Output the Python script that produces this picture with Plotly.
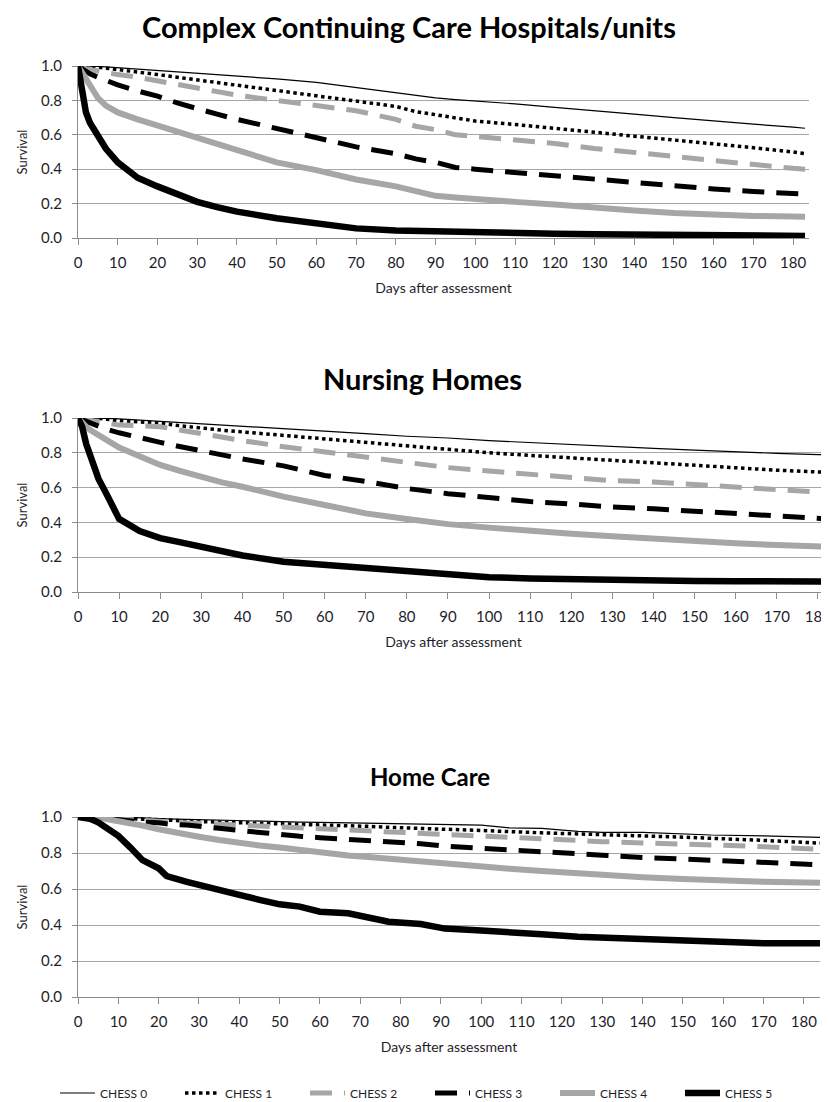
import plotly.graph_objects as go

SERIES = ["CHESS 0", "CHESS 1", "CHESS 2", "CHESS 3", "CHESS 4", "CHESS 5"]
PANEL_TITLES = ["Complex Continuing Care Hospitals/units", "Nursing Homes", "Home Care"]
X_TITLE = "Days after assessment"
Y_TITLE = "Survival"

# Panel 1: Complex Continuing Care Hospitals/units
CCC_DAYS = [0, 1, 2, 3, 5, 7, 10, 15, 20, 25, 30, 35, 40, 50, 60, 70, 80, 85, 90, 95,
            100, 110, 120, 130, 140, 150, 160, 170, 180, 183]
CCC_C0 = [1, 1, 1, 0.999, 0.997, 0.995, 0.99, 0.983, 0.977, 0.968, 0.96, 0.952, 0.943, 0.925, 0.905,
          0.875, 0.845, 0.83, 0.815, 0.805, 0.797, 0.78, 0.76, 0.742, 0.72, 0.70, 0.68, 0.662, 0.645, 0.638]
CCC_C1 = [1, 1, 0.998, 0.996, 0.993, 0.988, 0.98, 0.965, 0.95, 0.935, 0.92, 0.905, 0.89, 0.86, 0.83,
          0.80, 0.765, 0.735, 0.715, 0.695, 0.68, 0.66, 0.64, 0.615, 0.592, 0.57, 0.55, 0.525, 0.50, 0.49]
CCC_C2 = [1, 0.99, 0.985, 0.98, 0.97, 0.962, 0.95, 0.935, 0.915, 0.89, 0.87, 0.85, 0.83, 0.80, 0.77,
          0.74, 0.69, 0.65, 0.63, 0.60, 0.59, 0.57, 0.55, 0.52, 0.50, 0.475, 0.45, 0.425, 0.405, 0.40]
CCC_C3 = [1, 0.985, 0.97, 0.955, 0.935, 0.915, 0.89, 0.855, 0.825, 0.785, 0.75, 0.72, 0.69, 0.635, 0.58,
          0.53, 0.49, 0.46, 0.44, 0.41, 0.40, 0.38, 0.36, 0.34, 0.32, 0.30, 0.285, 0.27, 0.258, 0.255]
CCC_C4 = [1, 0.96, 0.92, 0.88, 0.815, 0.77, 0.73, 0.69, 0.655, 0.615, 0.58, 0.545, 0.51, 0.44, 0.395,
          0.34, 0.30, 0.27, 0.245, 0.235, 0.225, 0.21, 0.195, 0.175, 0.16, 0.145, 0.133, 0.128, 0.125, 0.124]
CCC_C5 = [1, 0.85, 0.73, 0.67, 0.59, 0.52, 0.44, 0.35, 0.30, 0.25, 0.21, 0.18, 0.153, 0.115, 0.085,
          0.056, 0.043, 0.04, 0.035, 0.032, 0.03, 0.028, 0.025, 0.022, 0.02, 0.018, 0.016, 0.015, 0.013, 0.012]

# Panel 2: Nursing Homes
NH_DAYS = [0, 1, 2, 3, 5, 7, 10, 15, 20, 25, 30, 35, 40, 50, 60, 70, 80, 90, 100, 110,
           120, 130, 140, 150, 160, 170, 180, 183]
NH_C0 = [1, 1, 1, 1, 0.999, 0.998, 0.995, 0.988, 0.98, 0.975, 0.97, 0.962, 0.955, 0.94, 0.925, 0.91,
         0.895, 0.885, 0.87, 0.858, 0.845, 0.835, 0.825, 0.815, 0.805, 0.797, 0.79, 0.787]
NH_C1 = [1, 1, 1, 0.999, 0.997, 0.993, 0.985, 0.978, 0.97, 0.955, 0.94, 0.93, 0.92, 0.9, 0.88, 0.86,
         0.835, 0.815, 0.80, 0.785, 0.77, 0.755, 0.74, 0.725, 0.71, 0.70, 0.69, 0.687]
NH_C2 = [1, 0.995, 0.99, 0.985, 0.978, 0.97, 0.96, 0.955, 0.95, 0.93, 0.91, 0.885, 0.87, 0.835, 0.805,
         0.775, 0.745, 0.715, 0.695, 0.675, 0.66, 0.64, 0.632, 0.618, 0.60, 0.586, 0.573, 0.57]
NH_C3 = [1, 0.99, 0.98, 0.97, 0.95, 0.935, 0.915, 0.885, 0.86, 0.835, 0.81, 0.785, 0.765, 0.725, 0.67,
         0.635, 0.595, 0.565, 0.54, 0.52, 0.506, 0.488, 0.478, 0.464, 0.447, 0.437, 0.424, 0.42]
NH_C4 = [1, 0.97, 0.95, 0.93, 0.90, 0.87, 0.83, 0.78, 0.73, 0.695, 0.66, 0.63, 0.605, 0.548, 0.50,
         0.452, 0.42, 0.39, 0.37, 0.35, 0.335, 0.32, 0.305, 0.29, 0.28, 0.27, 0.262, 0.26]
NH_C5 = [1, 0.95, 0.85, 0.78, 0.65, 0.56, 0.42, 0.35, 0.31, 0.285, 0.26, 0.235, 0.21, 0.174, 0.155,
         0.136, 0.12, 0.10, 0.085, 0.078, 0.072, 0.068, 0.065, 0.063, 0.062, 0.061, 0.06, 0.06]

# Panel 3: Home Care
HC_DAYS = [0, 3, 5, 8, 10, 13, 16, 20, 22, 27, 30, 35, 40, 45, 50, 55, 60, 67, 72, 77, 85, 91,
           100, 107, 115, 124, 130, 140, 150, 157, 170, 184]
HC_C0 = [1, 1, 1, 1, 1, 0.998, 0.995, 0.99, 0.99, 0.987, 0.985, 0.982, 0.98, 0.978, 0.975, 0.972,
         0.97, 0.967, 0.965, 0.962, 0.958, 0.955, 0.955, 0.94, 0.937, 0.92, 0.915, 0.915, 0.905, 0.9,
         0.895, 0.887]
HC_C1 = [1, 1, 1, 0.998, 0.995, 0.99, 0.988, 0.985, 0.982, 0.978, 0.975, 0.972, 0.97, 0.968, 0.965,
         0.962, 0.96, 0.952, 0.948, 0.943, 0.935, 0.932, 0.925, 0.918, 0.912, 0.906, 0.903, 0.895,
         0.888, 0.88, 0.87, 0.855]
HC_C2 = [1, 1, 0.998, 0.994, 0.99, 0.985, 0.98, 0.975, 0.972, 0.967, 0.965, 0.96, 0.955, 0.95, 0.945,
         0.94, 0.935, 0.93, 0.925, 0.92, 0.912, 0.905, 0.9, 0.893, 0.885, 0.87, 0.863, 0.858, 0.852,
         0.845, 0.835, 0.82]
HC_C3 = [1, 1, 0.995, 0.99, 0.985, 0.977, 0.972, 0.968, 0.962, 0.955, 0.95, 0.937, 0.925, 0.913,
         0.902, 0.893, 0.885, 0.877, 0.868, 0.862, 0.852, 0.838, 0.825, 0.815, 0.803, 0.795, 0.788,
         0.775, 0.765, 0.757, 0.744, 0.735]
HC_C4 = [1, 1, 0.998, 0.985, 0.978, 0.965, 0.952, 0.932, 0.922, 0.9, 0.89, 0.872, 0.854, 0.842, 0.83,
         0.815, 0.80, 0.786, 0.778, 0.768, 0.752, 0.737, 0.722, 0.713, 0.70, 0.685, 0.678, 0.665,
         0.655, 0.648, 0.64, 0.635]
HC_C5 = [1, 0.99, 0.97, 0.92, 0.895, 0.83, 0.76, 0.715, 0.672, 0.64, 0.625, 0.595, 0.567, 0.54,
         0.515, 0.502, 0.474, 0.465, 0.446, 0.418, 0.405, 0.38, 0.37, 0.357, 0.348, 0.335, 0.33, 0.32,
         0.31, 0.30, 0.298, 0.298]

X_TICKS = list(range(0, 181, 10))
Y_TICKS = [0.0, 0.2, 0.4, 0.6, 0.8, 1.0]

PANELS = [
    (CCC_DAYS, [CCC_C0, CCC_C1, CCC_C2, CCC_C3, CCC_C4, CCC_C5]),
    (NH_DAYS, [NH_C0, NH_C1, NH_C2, NH_C3, NH_C4, NH_C5]),
    (HC_DAYS, [HC_C0, HC_C1, HC_C2, HC_C3, HC_C4, HC_C5]),
]

# the page body has an 8px margin; figure sized to fit the 829x1102 window
OFF = 8
W, H = 829 - OFF, 1102 - OFF
GRAY = "#A6A6A6"
AXIS = "#8C8C8C"
TXT = "#1E1E2A"
FONT = "Lato"

STYLES = [
    dict(color="black", width=1.2, dash="solid"),
    dict(color="black", width=3.5, dash="dot"),
    dict(color=GRAY, width=5, dash="22px,12px"),
    dict(color="black", width=5, dash="22px,12px"),
    dict(color=GRAY, width=6, dash="solid"),
    dict(color="black", width=6.5, dash="solid"),
]

# page-pixel geometry: (left, right, top(1.0), bottom(0.0), xmax)
GEOM = [
    (78, 809, 66, 238, 184),
    (78, 829, 418, 592, 182.7),
    (78, 820, 817, 997, 184),
]
TITLE_Y = [26, 378, 777]
TITLE_X = [409, 422, 430]
TITLE_SIZE = [29, 29, 24]


def px(v):
    return (v - OFF) / W


def py(v):
    return 1 - (v - OFF) / H


fig = go.Figure()
layout = dict(width=W, height=H, margin=dict(l=0, r=0, t=0, b=0, autoexpand=False), autosize=False,
              paper_bgcolor="white", plot_bgcolor="white",
              font=dict(family=FONT, color=TXT, size=13))

annotations = []
for i, (days, series) in enumerate(PANELS):
    n = i + 1
    xa = "x" if n == 1 else f"x{n}"
    ya = "y" if n == 1 else f"y{n}"
    for k, (name, vals) in enumerate(zip(SERIES, series)):
        st = STYLES[k]
        fig.add_trace(go.Scatter(
            x=days, y=vals, mode="lines", name=name, xaxis=xa, yaxis=ya,
            line=dict(color=st["color"], width=st["width"], dash=st["dash"]),
            showlegend=(i == 0), legendrank=k,
        ))
    l, r, t, b, xmax = GEOM[i]
    layout[f"xaxis{'' if n == 1 else n}"] = dict(
        domain=[px(l), min(px(r), 1.0)], anchor=ya, range=[0, xmax],
        tickmode="array", tickvals=X_TICKS, ticks="outside", ticklen=6, tickcolor=AXIS,
        showline=True, linecolor=AXIS, linewidth=1, showgrid=False, zeroline=False,
        ticklabeloverflow="allow", ticklabelstandoff=5, automargin=False,
        tickfont=dict(size=15, family=FONT, color=TXT),
        title=dict(text=X_TITLE, font=dict(size=14, family=FONT, color=TXT), standoff=13),
    )
    layout[f"yaxis{'' if n == 1 else n}"] = dict(
        domain=[py(b), py(t)], anchor=xa, range=[0, 1.0],
        tickmode="array", tickvals=Y_TICKS, tickformat=".1f", ticks="outside", ticklen=5,
        tickcolor=AXIS, showline=True, linecolor=AXIS, linewidth=1,
        showgrid=True, gridcolor=GRAY, gridwidth=1, zeroline=False, automargin=False,
        tickfont=dict(size=15, family=FONT, color=TXT), ticklabelstandoff=7,
        title=dict(text=Y_TITLE, font=dict(size=13, family=FONT, color=TXT), standoff=10),
    )
    annotations.append(dict(
        text=f"<b>{PANEL_TITLES[i]}</b>", xref="paper", yref="paper",
        x=px(TITLE_X[i]), y=py(TITLE_Y[i]), xanchor="center", yanchor="middle",
        showarrow=False, font=dict(size=TITLE_SIZE[i], family=FONT, color="black"),
    ))

layout["annotations"] = annotations
layout["legend"] = dict(
    orientation="h", x=px(55), xanchor="left", y=py(1093), yanchor="middle",
    entrywidth=75, entrywidthmode="pixels", itemwidth=35,
    font=dict(size=12, family=FONT, color=TXT), traceorder="normal",
    bgcolor="rgba(0,0,0,0)",
)
fig.update_layout(**layout)
fig.write_html("out.html")
